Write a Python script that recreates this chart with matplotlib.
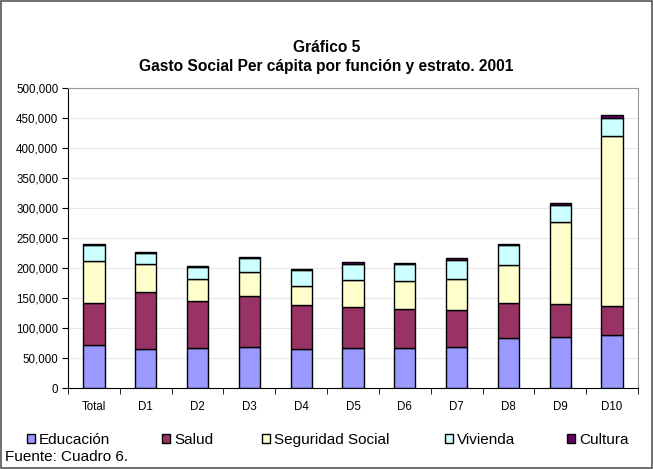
import matplotlib.pyplot as plt
import numpy as np
from matplotlib.ticker import FuncFormatter, FixedLocator

plt.rcParams['font.family'] = ['Liberation Sans', 'DejaVu Sans']

# datos
estratos = ['Total', 'D1', 'D2', 'D3', 'D4', 'D5', 'D6', 'D7', 'D8', 'D9', 'D10']
educacion = [71000, 64300, 66000, 67700, 65000, 66000, 67200, 67700, 83300, 85500, 87700]
salud = [70700, 95700, 79500, 85600, 73300, 69500, 63800, 61600, 58400, 55000, 48300]
seguridad = [69300, 47200, 35500, 39400, 31000, 44500, 46700, 51700, 62600, 135500, 284000]
vivienda = [26700, 17800, 21200, 24500, 27400, 27000, 29000, 32800, 33400, 29000, 30500]
cultura = [2300, 1200, 1000, 1100, 2100, 2500, 2100, 2900, 2300, 3300, 4500]

series = [
    ('Educación', educacion, '#9999FF'),
    ('Salud', salud, '#993366'),
    ('Seguridad Social', seguridad, '#FFFFCC'),
    ('Vivienda', vivienda, '#CCFFFF'),
    ('Cultura', cultura, '#660066'),
]

W, H = 653, 469
fig = plt.figure(figsize=(W / 100, H / 100), dpi=100)
ax = fig.add_axes([68 / W, 1 - 388 / H, 570 / W, 300 / H])

x = np.arange(len(estratos))
bottom = np.zeros(len(estratos))
handles = []
for label, vals, color in series:
    b = ax.bar(x, vals, width=0.41, bottom=bottom, color=color, edgecolor='black',
               linewidth=1.0, label=label, zorder=3)
    handles.append(b)
    bottom += np.array(vals)

# ejes
ax.set_xlim(-0.5, len(estratos) - 0.5)
ax.set_ylim(0, 500000)
ax.set_yticks(np.arange(0, 500001, 50000))
ax.yaxis.set_major_formatter(FuncFormatter(lambda v, p: f'{int(v):,}'))
ax.set_xticks(x)
ax.set_xticklabels(estratos)
ax.xaxis.set_minor_locator(FixedLocator(np.arange(-0.5, len(estratos), 1)))
ax.tick_params(axis='x', which='major', length=0, labelsize=8.3, pad=9)
ax.tick_params(axis='x', which='minor', length=4, color='black')
ax.tick_params(axis='y', length=4, labelsize=8.3, color='black', pad=3)
ax.grid(True, axis='y', color='#e8e8e8', linewidth=0.8, zorder=0)

for s in ['top', 'right']:
    ax.spines[s].set_color('#999999')
for s in ['left', 'bottom']:
    ax.spines[s].set_color('black')

# titulo
fig.text(0.5, 1 - 47 / H, 'Gráfico 5', ha='center', va='center',
         fontsize=11.2, fontweight='bold')
fig.text(0.5, 1 - 67 / H, 'Gasto Social Per cápita por función y estrato. 2001',
         ha='center', va='center', fontsize=11.2, fontweight='bold')

# leyenda: una entrada por posicion
leg_x = [27, 162, 262, 445, 567]
for h, (label, _, _), lx in zip(handles, series, leg_x):
    lg = fig.legend([h], [label], loc='center left',
                    bbox_to_anchor=(lx / W, 1 - 440 / H),
                    frameon=False, fontsize=11, handlelength=0.55, handleheight=0.55,
                    handletextpad=0.25, borderpad=0, borderaxespad=0)

fig.text(5 / W, 1 - 457 / H, 'Fuente: Cuadro 6.', ha='left', va='center', fontsize=11)

# marco exterior
fig.patches.append(plt.Rectangle((0.002, 0.002), 0.996, 0.996, transform=fig.transFigure,
                                 fill=False, edgecolor='#555555', linewidth=1.2))

fig.savefig('out.png', dpi=100)
